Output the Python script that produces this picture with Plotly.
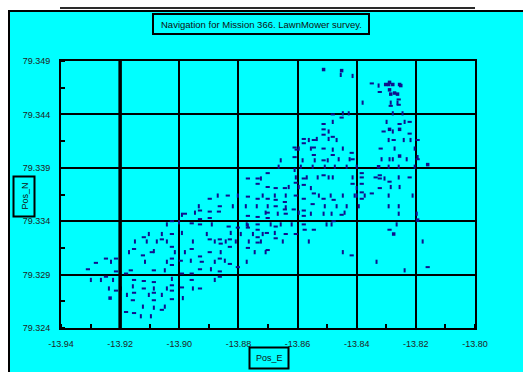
import plotly.graph_objects as go

# ---- data (Pos_E, Pos_N) ----
# horizontal-dash samples
east_h = [-13.9309,-13.9282,-13.9248,-13.9214,-13.9214,-13.9248,-13.9214,-13.9180,-13.9164,-13.9153,
          -13.9120,-13.9123,-13.9093,-13.9086,-13.9059,-13.9025,-13.9025,-13.9025,-13.9025,-13.9153,
          -13.9153,-13.9157,-13.9120,-13.9086,-13.9120,-13.9086,-13.9086,-13.9025,-13.9025,-13.9025,
          -13.9059,-13.9180,-13.9153,-13.9025,-13.8958,-13.8995,-13.8930,-13.8924,-13.8897,-13.8863,
          -13.8860,-13.8897,-13.8863,-13.8833,-13.8829,-13.8829,-13.8829,-13.8930,-13.8863,-13.8958,
          -13.8991,-13.8958,-13.8930,-13.8991,-13.8863,-13.8930,-13.8958,-13.8897,-13.8836,-13.8897,
          -13.8897,-13.8930,-13.8930,-13.8863,-13.8866,-13.8802,-13.8802,-13.8981,-13.8768,-13.8735,
          -13.8701,-13.8674,-13.8643,-13.8606,-13.8768,-13.8735,-13.8701,-13.8701,-13.8674,-13.8643,
          -13.8640,-13.8613,-13.8768,-13.8735,-13.8735,-13.8674,-13.8735,-13.8735,-13.8704,-13.8674,
          -13.8640,-13.8606,-13.8768,-13.8701,-13.8701,-13.8768,-13.8735,-13.8735,-13.8701,-13.8674,
          -13.8643,-13.8610,-13.8603,-13.8610,-13.8579,-13.8512,-13.8579,-13.8579,-13.8549,-13.8579,
          -13.8576,-13.8545,-13.8478,-13.8451,-13.8478,-13.8512,-13.8512,-13.8512,-13.8481,-13.8579,
          -13.8579,-13.8545,-13.8545,-13.8512,-13.8545,-13.8512,-13.8579,-13.8512,-13.8606,-13.8579,
          -13.8545,-13.8451,-13.8481,-13.8417,-13.8481,-13.8414,-13.8414,-13.8417,-13.8349,-13.8322,
          -13.8258,-13.8285,-13.8258,-13.8255,-13.8221,-13.8309,-13.8221,-13.8275,-13.8194,-13.8319,
          -13.8194,-13.8383,-13.8383,-13.8336,-13.8322,-13.8322,-13.8221,-13.8383,-13.8322,-13.8289,
          -13.8349,-13.8383,-13.8383,-13.8289,-13.8160]
north_h = [79.3295,79.3301,79.3305,79.3305,79.3293,79.3288,79.3275,79.3291,79.3294,79.3314,
           79.3325,79.3308,79.3311,79.3294,79.3323,79.3328,79.3316,79.3305,79.3299,79.3285,
           79.3273,79.3266,79.3284,79.3283,79.3277,79.3273,79.3266,79.3280,79.3275,79.3267,
           79.3257,79.3255,79.3254,79.3340,79.3314,79.3303,79.3307,79.3302,79.3323,79.3323,
           79.3319,79.3311,79.3305,79.3335,79.3323,79.3316,79.3300,79.3295,79.3293,79.3291,
           79.3291,79.3285,79.3277,79.3278,79.3288,79.3337,79.3338,79.3361,79.3364,79.3349,
           79.3343,79.3342,79.3350,79.3354,79.3349,79.3297,79.3334,79.3347,79.3363,79.3361,
           79.3361,79.3360,79.3358,79.3364,79.3345,79.3344,79.3348,79.3343,79.3354,79.3351,
           79.3347,79.3351,79.3334,79.3337,79.3332,79.3335,79.3325,79.3320,79.3329,79.3324,
           79.3328,79.3328,79.3315,79.3313,79.3385,79.3380,79.3380,79.3375,79.3372,79.3371,
           79.3371,79.3409,79.3407,79.3400,79.3361,79.3361,79.3350,79.3345,79.3356,79.3337,
           79.3332,79.3332,79.3360,79.3346,79.3340,79.3431,79.3426,79.3421,79.3419,79.3417,
           79.3413,79.3416,79.3409,79.3408,79.3402,79.3397,79.3380,79.3383,79.3376,79.3374,
           79.3366,79.3437,79.3440,79.3404,79.3402,79.3398,79.3375,79.3308,79.3469,79.3461,
           79.3454,79.3448,79.3449,79.3431,79.3433,79.3424,79.3422,79.3416,79.3416,79.3408,
           79.3398,79.3385,79.3381,79.3381,79.3383,79.3380,79.3381,79.3375,79.3371,79.3377,
           79.3366,79.3367,79.3361,79.3332,79.3297]

# vertical-dash samples
east_v = [-13.9231,-13.9299,-13.9265,-13.9224,-13.9238,-13.9197,-13.9170,-13.9150,-13.9103,-13.9116,
          -13.9086,-13.9110,-13.9076,-13.9059,-13.9042,-13.9015,-13.9042,-13.9049,-13.9157,-13.9086,
          -13.9177,-13.9103,-13.9059,-13.9025,-13.9042,-13.8988,-13.9123,-13.9086,-13.9049,-13.9130,
          -13.9096,-13.9001,-13.8991,-13.9042,-13.8991,-13.8954,-13.8981,-13.8961,-13.8907,-13.8880,
          -13.8860,-13.8880,-13.8846,-13.8826,-13.8843,-13.8893,-13.8954,-13.8880,-13.8890,-13.8870,
          -13.8802,-13.8934,-13.8947,-13.8819,-13.8809,-13.8792,-13.8768,-13.8691,-13.8751,-13.8718,
          -13.8677,-13.8765,-13.8745,-13.8772,-13.8718,-13.8677,-13.8640,-13.8775,-13.8738,-13.8701,
          -13.8708,-13.8667,-13.8640,-13.8772,-13.8657,-13.8620,-13.8724,-13.8650,-13.8708,-13.8657,
          -13.8664,-13.8610,-13.8724,-13.8606,-13.8630,-13.8528,-13.8488,-13.8596,-13.8555,-13.8512,
          -13.8508,-13.8485,-13.8502,-13.8485,-13.8562,-13.8447,-13.8407,-13.8468,-13.8434,-13.8441,
          -13.8447,-13.8481,-13.8495,-13.8562,-13.8535,-13.8495,-13.8596,-13.8555,-13.8481,-13.8583,
          -13.8542,-13.8498,-13.8589,-13.8549,-13.8508,-13.8569,-13.8532,-13.8495,-13.8555,-13.8596,
          -13.8454,-13.8414,-13.8447,-13.8427,-13.8468,-13.8447,-13.8461,-13.8424,-13.8474,-13.8434,
          -13.8481,-13.8414,-13.8373,-13.8292,-13.8211,-13.8393,-13.8292,-13.8258,-13.8258,-13.8197,
          -13.8265,-13.8177,-13.8333,-13.8238,-13.8326,-13.8380,-13.8285,-13.8262,-13.8278,-13.8245,
          -13.8299,-13.8238,-13.8278,-13.8292,-13.8241,-13.8218,-13.8272,-13.8204,-13.8316,-13.8289,
          -13.8278,-13.8231,-13.8194,-13.8400,-13.8292,-13.8258,-13.8204,-13.8306,-13.8258,-13.8285,
          -13.8255,-13.8400,-13.8400]
north_v = [79.3302,79.3285,79.3285,79.3285,79.3277,79.3277,79.3311,79.3321,79.3328,79.3302,
           79.3312,79.3321,79.3321,79.3328,79.3321,79.3311,79.3302,79.3294,79.3279,79.3277,
           79.3271,79.3271,79.3271,79.3286,79.3277,79.3268,79.3260,79.3259,79.3260,79.3251,
           79.3251,79.3339,79.3346,79.3337,79.3329,79.3321,79.3311,79.3303,79.3328,79.3321,
           79.3311,79.3302,79.3303,79.3329,79.3321,79.3295,79.3277,79.3285,79.3337,79.3364,
           79.3364,79.3354,79.3348,79.3354,79.3321,79.3328,79.3336,79.3337,79.3328,79.3328,
           79.3329,79.3321,79.3311,79.3302,79.3364,79.3364,79.3364,79.3354,79.3354,79.3354,
           79.3348,79.3347,79.3353,79.3337,79.3337,79.3337,79.3321,79.3321,79.3311,79.3397,
           79.3391,79.3388,79.3380,79.3381,79.3372,79.3364,79.3364,79.3348,79.3347,79.3347,
           79.3354,79.3347,79.3337,79.3337,79.3321,79.3364,79.3364,79.3354,79.3354,79.3348,
           79.3311,79.3433,79.3424,79.3416,79.3417,79.3417,79.3408,79.3408,79.3407,79.3397,
           79.3397,79.3397,79.3391,79.3391,79.3391,79.3381,79.3381,79.3381,79.3371,79.3372,
           79.3477,79.3476,79.3441,79.3441,79.3416,79.3408,79.3398,79.3398,79.3391,79.3391,
           79.3381,79.3381,79.3364,79.3364,79.3364,79.3354,79.3354,79.3354,79.3347,79.3347,
           79.3337,79.3321,79.3302,79.3294,79.3467,79.3451,79.3451,79.3451,79.3441,79.3441,
           79.3433,79.3433,79.3424,79.3416,79.3416,79.3416,79.3408,79.3408,79.3398,79.3398,
           79.3398,79.3398,79.3400,79.3391,79.3391,79.3391,79.3391,79.3380,79.3381,79.3372,
           79.3372,79.3371,79.3364]

# clustered (blob) samples
east_s = [-13.9234,-13.8512,-13.8451,-13.8302,-13.8292,-13.8278,-13.8255,-13.8251,-13.8289,-13.8285,
          -13.8272,-13.8262,-13.8289,-13.8289,-13.8255,-13.8255,-13.8160,-13.8326,-13.8275,-13.8194]
north_s = [79.3268,79.3482,79.3481,79.3468,79.3468,79.3468,79.3468,79.3467,79.3463,79.3459,
           79.3460,79.3459,79.3470,79.3426,79.3426,79.3401,79.3393,79.3391,79.3328,79.3341]

x_ticks = [-13.94, -13.92, -13.90, -13.88, -13.86, -13.84, -13.82, -13.80]
y_ticks = [79.324, 79.329, 79.334, 79.339, 79.344, 79.349]

TITLE = "Navigation for Mission 366. LawnMower survey."
XLABEL = "Pos_E"
YLABEL = "Pos_N"

# ---- layout constants (pixels) ----
W, H = 523, 372
L, R, T, B = 61, 48, 61, 44
PW, PH = W - L - R, H - T - B
def PX(x): return (x - L) / PW
def PY(y): return (H - B - y) / PH

NAVY = "#10108c"
CYAN = "#00ffff"
FONT = "Liberation Sans, Arial, sans-serif"

fig = go.Figure()
fig.add_trace(go.Scatter(x=east_h, y=north_h, mode="markers",
                         marker=dict(symbol="line-ew", size=3, line=dict(color=NAVY, width=2)),
                         showlegend=False, hoverinfo="skip"))
fig.add_trace(go.Scatter(x=east_v, y=north_v, mode="markers",
                         marker=dict(symbol="line-ns", size=3, line=dict(color=NAVY, width=2)),
                         showlegend=False, hoverinfo="skip"))
fig.add_trace(go.Scatter(x=east_s, y=north_s, mode="markers",
                         marker=dict(symbol="square", size=3.5, color=NAVY, line=dict(width=0)),
                         showlegend=False, hoverinfo="skip"))

shapes = [
    # white strips outside the cyan panel
    dict(type="rect", xref="paper", yref="paper", x0=PX(-5), x1=PX(W + 5), y0=PY(10), y1=PY(-5),
         fillcolor="white", line=dict(width=0), layer="below"),
    dict(type="rect", xref="paper", yref="paper", x0=PX(-5), x1=PX(8), y0=PY(H + 5), y1=PY(-5),
         fillcolor="white", line=dict(width=0), layer="below"),
    # panel borders
    dict(type="line", xref="paper", yref="paper", x0=PX(8), x1=PX(W + 2), y0=PY(11), y1=PY(11),
         line=dict(color="black", width=2)),
    dict(type="line", xref="paper", yref="paper", x0=PX(9), x1=PX(9), y0=PY(10), y1=PY(H + 2),
         line=dict(color="black", width=2)),
    dict(type="line", xref="paper", yref="paper", x0=PX(60), x1=PX(475), y0=PY(8), y1=PY(8),
         line=dict(color="#2a2a2a", width=2)),
    # title / label boxes
    dict(type="rect", xref="paper", yref="paper", x0=PX(153), x1=PX(369), y0=PY(34), y1=PY(14),
         line=dict(color="black", width=2), fillcolor="rgba(0,0,0,0)"),
    dict(type="rect", xref="paper", yref="paper", x0=PX(13.5), x1=PX(34.5), y0=PY(216.5), y1=PY(176.5),
         line=dict(color="black", width=2), fillcolor="rgba(0,0,0,0)"),
    dict(type="rect", xref="paper", yref="paper", x0=PX(249.5), x1=PX(288.5), y0=PY(368.5), y1=PY(347.5),
         line=dict(color="black", width=2), fillcolor="rgba(0,0,0,0)"),
    # heavier grid line
    dict(type="line", xref="x", yref="paper", x0=x_ticks[1], x1=x_ticks[1], y0=0, y1=1,
         line=dict(color="black", width=3.5)),
]

annotations = [
    dict(text=TITLE, xref="paper", yref="paper", x=PX(261), y=PY(24.5), showarrow=False,
         xanchor="center", yanchor="middle", font=dict(family=FONT, size=9.5, color="#111")),
    dict(text=YLABEL, xref="paper", yref="paper", x=PX(24), y=PY(196.5), showarrow=False,
         textangle=-90, xanchor="center", yanchor="middle", font=dict(family=FONT, size=9, color="#111")),
    dict(text=XLABEL, xref="paper", yref="paper", x=PX(269), y=PY(358), showarrow=False,
         xanchor="center", yanchor="middle", font=dict(family=FONT, size=9, color="#111")),
]

axis_common = dict(showgrid=True, gridcolor="black", gridwidth=2, zeroline=False,
                   showline=True, linecolor="black", linewidth=2, mirror=True,
                   ticks="", tickfont=dict(family=FONT, size=9, color="#222"))

fig.update_layout(
    width=W, height=H, margin=dict(l=L, r=R, t=T, b=B, pad=0),
    paper_bgcolor=CYAN, plot_bgcolor=CYAN,
    shapes=shapes, annotations=annotations, showlegend=False,
    xaxis=dict(range=[x_ticks[0], x_ticks[-1]], tickvals=x_ticks, ticktext=[f"{v:.2f}" for v in x_ticks],
               minor=dict(dtick=0.01, tick0=x_ticks[0], ticks="inside", ticklen=4, tickwidth=2,
                          tickcolor="black", showgrid=False),
               ticklabelstandoff=6, **axis_common),
    yaxis=dict(range=[y_ticks[0], y_ticks[-1]], tickvals=y_ticks, ticktext=[f"{v:.3f}" for v in y_ticks],
               minor=dict(dtick=0.0025, tick0=y_ticks[0], ticks="inside", ticklen=4, tickwidth=2,
                          tickcolor="black", showgrid=False),
               ticklabelstandoff=7, **axis_common),
)

fig.write_html("out.html")
